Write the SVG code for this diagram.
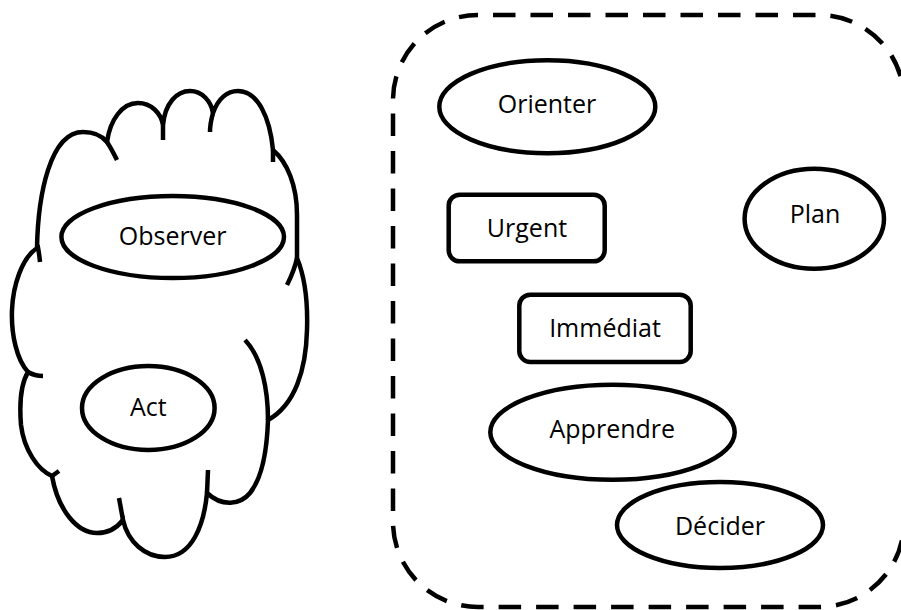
<svg xmlns="http://www.w3.org/2000/svg" width="901" height="610" viewBox="0 0 901 610">
<style>
.shape{fill:#fff;stroke:#000;stroke-width:4.5}
.hook{fill:none;stroke:#000;stroke-width:4.5}
.lbl{font-family:"Open Sans","Liberation Sans",sans-serif;font-size:25px;fill:#000;text-anchor:middle}
.frame{fill:none;stroke:#000;stroke-width:4.5;stroke-dasharray:22.5 15;stroke-dashoffset:22.5}
</style>
<rect width="901" height="610" fill="#fff"/>
<g id="cloud">
<path class="shape" d="M37,248 C38,195 50,132 83,132 C95,132 103,137 107,142 C110,120 122,103 138,103 C151,103 161,113 163,125 C165,103 177,91 190,91 C202,91 211,101 213,113 C218,99 227,91 238,91 C258,91 270,118 273,150 C287,162 297,185 297,215 C297,235 297,248 297,258 C304,275 308,300 307,330 C306,370 295,405 268,420 C267,450 262,478 250,493 C240,505 222,507 207,493 C204,525 192,557 165,557 C145,557 128,542 123,520 C116,529 106,533 97,533 C77,533 58,510 52,476 C38,470 24,450 21,425 C19,400 22,382 28,372 C17,360 11,335 12,310 C13,285 22,258 37,248 Z"/>
<path class="hook" d="M37.5,245 C38.5,250 39.5,256 40,262"/>
<path class="hook" d="M107,142 C111,148 114,154 117,160"/>
<path class="hook" d="M163,125 L163,140"/>
<path class="hook" d="M213,113 C211,120 210,126 210,132"/>
<path class="hook" d="M273,150 L273,162"/>
<path class="hook" d="M297,258 C295,268 291,277 287,285"/>
<path class="hook" d="M268,420 C268,390 262,358 245,340"/>
<path class="hook" d="M207,493 L208,470"/>
<path class="hook" d="M123,520 L119,498"/>
<path class="hook" d="M52,476 L59,471"/>
<path class="hook" d="M28,372 C33,375 38,376 43,376"/>
</g>
<g id="observer">
<ellipse class="shape" cx="172.7" cy="237" rx="111.3" ry="41"/>
<text class="lbl" x="172.7" y="245">Observer</text>
</g>
<g id="act">
<ellipse class="shape" cx="148.3" cy="408" rx="66.3" ry="42"/>
<text class="lbl" x="148.3" y="416">Act</text>
</g>
<g id="group-frame">
<rect class="frame" x="393" y="15" width="511" height="592" rx="85" ry="85"/>
</g>
<g id="orienter">
<ellipse class="shape" cx="547.3" cy="106.7" rx="108" ry="46.5"/>
<text class="lbl" x="547" y="113">Orienter</text>
</g>
<g id="urgent">
<rect class="shape" x="448.7" y="194.7" width="156" height="66.6" rx="11" ry="11"/>
<text class="lbl" x="527" y="237">Urgent</text>
</g>
<g id="plan">
<ellipse class="shape" cx="814.3" cy="218.7" rx="69.7" ry="50"/>
<text class="lbl" x="815" y="223">Plan</text>
</g>
<g id="immediat">
<rect class="shape" x="519.3" y="294.7" width="171.4" height="67.3" rx="11" ry="11"/>
<text class="lbl" x="605" y="337">Immédiat</text>
</g>
<g id="apprendre">
<ellipse class="shape" cx="612.5" cy="432.2" rx="122.2" ry="47.5"/>
<text class="lbl" x="612.3" y="438">Apprendre</text>
</g>
<g id="decider">
<ellipse class="shape" cx="720" cy="525" rx="103" ry="43"/>
<text class="lbl" x="720" y="535">Décider</text>
</g>
<g id="connectors"/>
</svg>
